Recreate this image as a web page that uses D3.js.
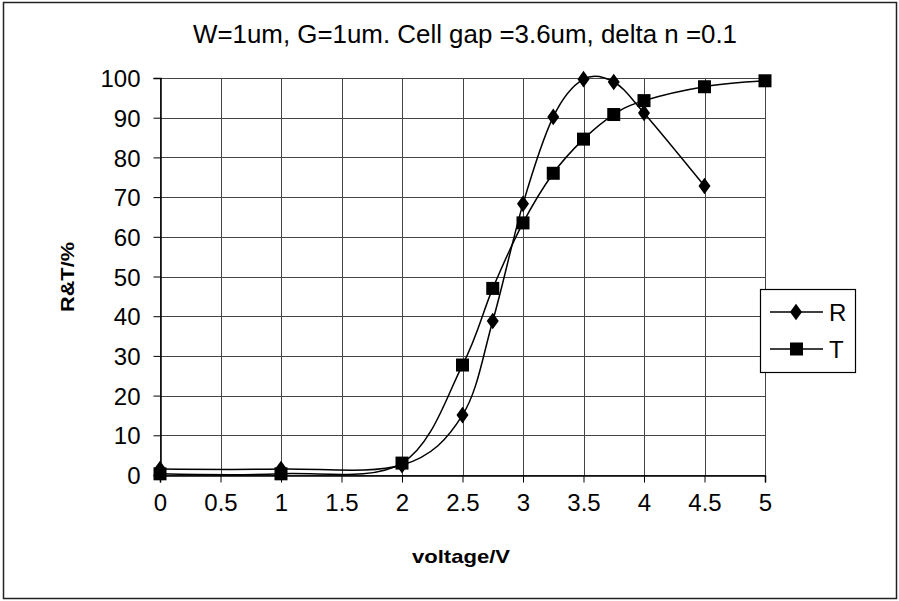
<!DOCTYPE html>
<html>
<head>
<meta charset="utf-8">
<script src="https://cdn.jsdelivr.net/npm/d3@7"></script>
<style>
  body { margin: 0; background: #fff; }
  svg { display: block; }
  text { font-family: "Liberation Sans", Arial, sans-serif; fill: #000; }
</style>
</head>
<body>
<svg id="chart" width="899" height="601"></svg>
<script>
const title = "W=1um, G=1um. Cell gap =3.6um, delta n =0.1";
const xLabel = "voltage/V";
const yLabel = "R&T/%";
const xTicks = [0, 0.5, 1, 1.5, 2, 2.5, 3, 3.5, 4, 4.5, 5];
const yTicks = [0, 10, 20, 30, 40, 50, 60, 70, 80, 90, 100];
const rVoltage = [0, 1, 2, 2.5, 2.75, 3, 3.25, 3.5, 3.75, 4, 4.5];
const rValues  = [1.5, 1.5, 2.5, 15.1, 38.8, 68.3, 90.2, 99.7, 99.0, 91.2, 72.8];
const tVoltage = [0, 1, 2, 2.5, 2.75, 3, 3.25, 3.5, 3.75, 4, 4.5, 5];
const tValues  = [0.3, 0.3, 3.0, 27.7, 47.0, 63.5, 76.0, 84.6, 90.8, 94.3, 97.8, 99.3];
const seriesNames = ["R", "T"];

const svg = d3.select("#chart");

// outer frame
svg.append("rect").attr("x", 3.5).attr("y", 2.5).attr("width", 893).attr("height", 596)
  .attr("fill", "none").attr("stroke", "#222").attr("stroke-width", 1.5);

const x = d3.scaleLinear().domain([0, 5]).range([160, 765]);
const y = d3.scaleLinear().domain([0, 100]).range([475, 78]);

// gridlines
const grid = svg.append("g").attr("stroke", "#444").attr("stroke-width", 1);
grid.selectAll(".gy").data(yTicks).join("line")
  .attr("x1", x(0)).attr("x2", x(5))
  .attr("y1", d => Math.round(y(d)) + 0.5).attr("y2", d => Math.round(y(d)) + 0.5);
grid.selectAll(".gx").data(xTicks).join("line")
  .attr("y1", y(0)).attr("y2", y(100))
  .attr("x1", d => Math.round(x(d)) + 0.5).attr("x2", d => Math.round(x(d)) + 0.5);

// axes
const yAxis = d3.axisLeft(y).tickValues(yTicks).tickSize(7).tickPadding(13).tickFormat(d3.format("d"));
const gy = svg.append("g").attr("transform", `translate(${Math.round(x(0)) + 0.5},0)`).call(yAxis);
gy.selectAll("text").style("font-size", "24px").attr("dy", "0.36em").attr("transform", "scale(1,1)");
gy.select(".domain").attr("stroke", "#000").attr("stroke-width", 1.5);
gy.selectAll(".tick line").attr("stroke", "#000");

const xAxis = d3.axisBottom(x).tickValues(xTicks).tickSize(7).tickPadding(11).tickFormat(d => String(d));
const gx = svg.append("g").attr("transform", `translate(0,${Math.round(y(0)) + 0.5})`).call(xAxis);
gx.selectAll("text").style("font-size", "24px");
gx.select(".domain").attr("stroke", "#000").attr("stroke-width", 1.5);
gx.selectAll(".tick line").attr("stroke", "#000");

// lines
const rData = rVoltage.map((v, i) => [v, rValues[i]]);
const tData = tVoltage.map((v, i) => [v, tValues[i]]);
const line = d3.line().x(d => x(d[0])).y(d => y(d[1])).curve(d3.curveCardinal.tension(0));

svg.append("path").datum(tData).attr("d", line).attr("fill", "none").attr("stroke", "#000").attr("stroke-width", 1.5);
svg.append("path").datum(rData).attr("d", line).attr("fill", "none").attr("stroke", "#000").attr("stroke-width", 1.5);

const diamond = d3.symbol().type(d3.symbolDiamond).size(80);
svg.selectAll(".rm").data(rData).join("path")
  .attr("d", diamond).attr("transform", d => `translate(${x(d[0])},${y(d[1])}) scale(1.25,1)`).attr("fill", "#000");
svg.selectAll(".tm").data(tData).join("rect")
  .attr("x", d => x(d[0]) - 6.5).attr("y", d => y(d[1]) - 6.5)
  .attr("width", 13).attr("height", 13).attr("fill", "#000");

// title
svg.append("text").attr("x", 465).attr("y", 43).attr("text-anchor", "middle")
  .attr("textLength", 544).attr("lengthAdjust", "spacingAndGlyphs")
  .style("font-size", "25px").text(title);

// axis titles
svg.append("text").attr("x", 461).attr("y", 563).attr("text-anchor", "middle")
  .attr("textLength", 98).attr("lengthAdjust", "spacingAndGlyphs")
  .style("font-size", "19px").style("font-weight", "bold").text(xLabel);
svg.append("text").attr("transform", "translate(74,277) rotate(-90)").attr("text-anchor", "middle")
  .attr("textLength", 70).attr("lengthAdjust", "spacingAndGlyphs")
  .style("font-size", "19px").style("font-weight", "bold").text(yLabel);

// legend
const lg = svg.append("g");
lg.append("rect").attr("x", 760.5).attr("y", 289.5).attr("width", 95).attr("height", 83)
  .attr("fill", "#fff").attr("stroke", "#000").attr("stroke-width", 1.2);
const rows = [312, 349];
seriesNames.forEach((name, i) => {
  const yy = rows[i];
  lg.append("line").attr("x1", 770).attr("x2", 823).attr("y1", yy).attr("y2", yy)
    .attr("stroke", "#000").attr("stroke-width", 1.5);
  if (i === 0) {
    lg.append("path").attr("d", diamond).attr("transform", `translate(796,${yy}) scale(1.25,1)`).attr("fill", "#000");
  } else {
    lg.append("rect").attr("x", 790).attr("y", yy - 6.5).attr("width", 13).attr("height", 13).attr("fill", "#000");
  }
  lg.append("text").attr("x", 829).attr("y", yy).attr("dy", "0.36em")
    .style("font-size", "24px").text(name);
});
</script>
</body>
</html>
